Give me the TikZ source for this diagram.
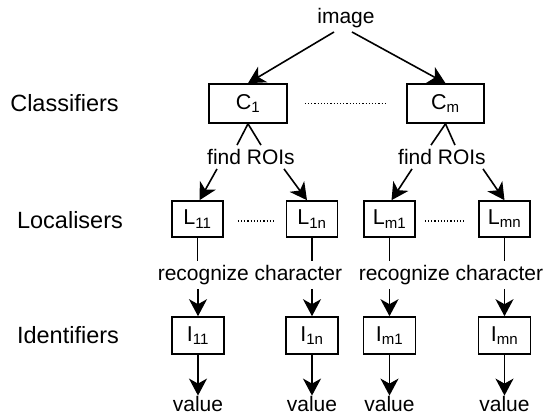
\documentclass[tikz,border=0pt]{standalone}
\usepackage{fontspec}
\setmainfont{Liberation Sans}
\usetikzlibrary{arrows.meta}

\begin{document}
\begin{tikzpicture}[x = 1pt, y = -1pt,
        box/.style = {draw, line width = 1.6pt, minimum width = 52pt, minimum height = 37pt, inner sep = 0pt, font = \fontsize{21.5}{25}\selectfont},
        txt/.style = {inner sep = 4pt, font = \fontsize{21}{25}\selectfont},
        rowlabel/.style = {inner sep = 0pt, font = \fontsize{23.5}{28}\selectfont},
        arr/.style = {line width = 1.6pt, -{Stealth[length = 17pt, width = 18pt, inset = 5pt]}},
        ln/.style = {line width = 1.6pt},
        dots/.style = {line width = 1.2pt, dotted}]
        \useasboundingbox (0,0) rectangle (547,416);

        \node[rowlabel] (classifiers) at (64.5,103) {Classifiers};
        \node[rowlabel] (localisers) at (70,220) {Localisers};
        \node[rowlabel] (identifiers) at (68,335) {Identifiers};

        \node[txt] (img) at (346,18) {image};
        \node[box, minimum width = 78pt, minimum height = 39pt] (C1) at (248,103.5) {C\textsubscript{1}};
        \node[box, minimum width = 77pt, minimum height = 39pt] (Cm) at (445.5,103.5) {C\textsubscript{m}};
        \draw[arr] ([xshift = -12pt]img.south) -- (C1.north);
        \draw[arr] ([xshift = 6pt]img.south) -- (Cm.north);
        \draw[dots, shorten <= 17pt, shorten >= 19pt] (C1.east) -- (Cm.west);

        \node[txt] (roi1) at (251,157) {find ROIs};
        \node[txt] (roim) at (442,157) {find ROIs};
        \draw[ln] (C1.south) -- ([xshift = -14pt]roi1.north);
        \draw[ln] (C1.south) -- ([xshift = 10pt]roi1.north);
        \draw[ln] (Cm.south) -- ([xshift = -11pt]roim.north);
        \draw[ln] (Cm.south) -- ([xshift = 13pt]roim.north);

        \node[box, minimum width = 51pt, minimum height = 36pt] (L11) at (197.5,219) {L\textsubscript{11}};
        \node[box, minimum width = 51pt, minimum height = 36pt] (L1n) at (312,219) {L\textsubscript{1n}};
        \node[box, minimum width = 51pt, minimum height = 36pt] (Lm1) at (389.5,219) {L\textsubscript{m1}};
        \node[box, minimum width = 51pt, minimum height = 36pt] (Lmn) at (504.5,219) {L\textsubscript{mn}};
        \draw[arr] ([xshift = -34pt]roi1.south) -- ([xshift = 2pt]L11.north);
        \draw[arr] ([xshift = 33pt]roi1.south) -- ([xshift = -5pt]L1n.north);
        \draw[arr] ([xshift = -30pt]roim.south) -- ([xshift = 2pt]Lm1.north);
        \draw[arr] ([xshift = 41pt]roim.south) -- (Lmn.north);
        \draw[dots, shorten <= 14pt, shorten >= 10pt] ([yshift = -2pt]L11.east) -- ([yshift = -2pt]L1n.west);
        \draw[dots, shorten <= 9pt, shorten >= 14pt] ([yshift = -2pt]Lm1.east) -- ([yshift = -2pt]Lmn.west);

        \node[txt] (rec1) at (250,275) {recognize character};
        \node[txt] (rec2) at (451,275) {recognize character};
        \draw[ln] (L11.south) -- (L11.south |- rec1.north);
        \draw[ln] (L1n.south) -- (L1n.south |- rec1.north);
        \draw[ln] (Lm1.south) -- (Lm1.south |- rec2.north);
        \draw[ln] (Lmn.south) -- (Lmn.south |- rec2.north);

        \node[box] (I11) at (198,335.5) {I\textsubscript{11}};
        \node[box] (I1n) at (312,335.5) {I\textsubscript{1n}};
        \node[box] (Im1) at (389.5,335.5) {I\textsubscript{m1}};
        \node[box] (Imn) at (504.5,335.5) {I\textsubscript{mn}};
        \draw[arr] (I11.north |- rec1.south) -- (I11.north);
        \draw[arr] (I1n.north |- rec1.south) -- (I1n.north);
        \draw[arr] (Im1.north |- rec2.south) -- (Im1.north);
        \draw[arr] (Imn.north |- rec2.south) -- (Imn.north);

        \node[txt, inner sep = 0.5pt] (v11) at (198,404) {value};
        \node[txt, inner sep = 0.5pt] (v1n) at (312,404) {value};
        \node[txt, inner sep = 0.5pt] (vm1) at (389.5,404) {value};
        \node[txt, inner sep = 0.5pt] (vmn) at (504.5,404) {value};
        \draw[arr] (I11) -- (v11);
        \draw[arr] (I1n) -- (v1n);
        \draw[arr] (Im1) -- (vm1);
        \draw[arr] (Imn) -- (vmn);
    \end{tikzpicture}
\end{document}
